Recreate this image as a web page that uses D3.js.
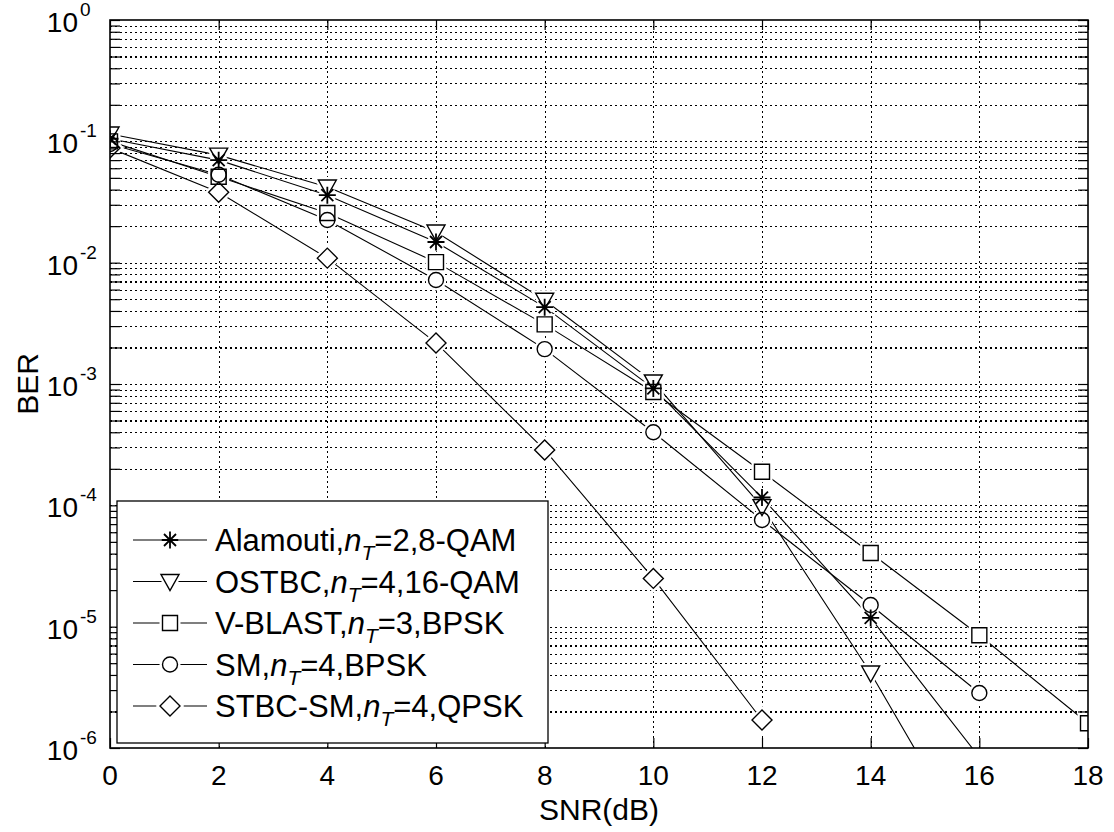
<!DOCTYPE html>
<html>
<head>
<meta charset="utf-8">
<script src="https://cdn.jsdelivr.net/npm/d3@7"></script>
<style>
  html, body { margin: 0; padding: 0; background: #fff; }
  text { font-family: "Liberation Sans", Arial, sans-serif; fill: #000; }
</style>
</head>
<body>
<svg id="chart" width="1114" height="832"></svg>
<script>
// ---- data ----
const snr = [0, 2, 4, 6, 8, 10, 12, 14, 16, 18];
const alamouti = [0.105, 0.070, 0.036, 0.0148, 0.0043, 0.00092, 1.16e-4, 1.18e-5, 8.4e-7];
const ostbc    = [0.115, 0.077, 0.042, 0.0179, 0.0049, 0.00104, 9.75e-5, 4.15e-6, 1.2e-7];
const vblast   = [0.100, 0.051, 0.0257, 0.0101, 0.0031, 0.00086, 1.89e-4, 4.05e-5, 8.5e-6, 1.6e-6];
const sm       = [0.095, 0.053, 0.0225, 0.0072, 0.00194, 0.00040, 7.57e-5, 1.51e-5, 2.84e-6];
const stbcsm   = [0.088, 0.038, 0.0109, 0.00218, 0.000286, 2.5e-5, 1.7e-6];

const seriesNames = ["Alamouti", "OSTBC", "V-BLAST", "SM", "STBC-SM"];
const seriesNT = ["2", "4", "3", "4", "4"];
const seriesMod = ["8-QAM", "16-QAM", "BPSK", "BPSK", "QPSK"];
const seriesMarkers = ["asterisk", "triangle", "square", "circle", "diamond"];
const seriesValues = [alamouti, ostbc, vblast, sm, stbcsm];

const xTicks = [0, 2, 4, 6, 8, 10, 12, 14, 16, 18];
const yTickExps = [0, -1, -2, -3, -4, -5, -6];
const xLabel = "SNR(dB)";
const yLabel = "BER";

// ---- layout ----
const L = 110, R = 1088, T = 20, B = 748;
const svg = d3.select("#chart");
const x = d3.scaleLinear().domain([0, 18]).range([L, R]);
const y = d3.scaleLog().domain([1e-6, 1]).range([B, T]);

// all log ticks (major + minor)
const yAll = [];
for (let e = -6; e < 0; e++) for (let m = 1; m < 10; m++) yAll.push(m * Math.pow(10, e));
yAll.push(1);

svg.append("defs").append("clipPath").attr("id", "plotclip")
  .append("rect").attr("x", L).attr("y", T).attr("width", R - L).attr("height", B - T);

// ---- grid ----
const grid = svg.append("g");
grid.append("g").attr("transform", `translate(0,${B})`)
  .call(d3.axisBottom(x).tickValues(xTicks.slice(1, -1)).tickSize(-(B - T)).tickFormat(""))
  .call(g => g.select(".domain").remove());
grid.append("g").attr("transform", `translate(${L},0)`)
  .call(d3.axisLeft(y).tickValues(yAll.filter(v => v > 1e-6 && v < 1)).tickSize(-(R - L)).tickFormat(""))
  .call(g => g.select(".domain").remove());
grid.selectAll("line").attr("stroke", "#000").attr("stroke-width", 1.1)
  .attr("stroke-dasharray", "2,3").attr("shape-rendering", "crispEdges");

// ---- marker shapes ----
function markerPath(type) {
  switch (type) {
    case "asterisk": {
      const a = 8.5, d = 6;
      return `M${-a},0L${a},0M0,${-a}L0,${a}M${-d},${-d}L${d},${d}M${-d},${d}L${d},${-d}`;
    }
    case "triangle": return "M-9,-7L9,-7L0,9Z";
    case "square": return "M-7.5,-7.5L7.5,-7.5L7.5,7.5L-7.5,7.5Z";
    case "circle": return "M7.5,0A7.5,7.5 0 1,1 -7.5,0A7.5,7.5 0 1,1 7.5,0Z";
    case "diamond": return "M0,-10L10,0L0,10L-10,0Z";
  }
}
const markerStroke = t => t === "asterisk" ? 1.8 : 1.4;

const plot = svg.append("g").attr("clip-path", "url(#plotclip)");
const line = d3.line().x(d => x(d[0])).y(d => y(d[1]));

// lines
seriesValues.forEach(vals => {
  const pts = vals.map((v, i) => [snr[i], v]);
  plot.append("path").datum(pts).attr("d", line)
    .attr("fill", "none").attr("stroke", "#000").attr("stroke-width", 1.1);
});
// halos (gaps of the lines around the markers)
seriesValues.forEach((vals, s) => {
  vals.forEach((v, i) => {
    plot.append("path").attr("d", markerPath(seriesMarkers[s]))
      .attr("transform", `translate(${x(snr[i])},${y(v)})`)
      .attr("fill", seriesMarkers[s] === "asterisk" ? "none" : "#fff")
      .attr("stroke", "#fff").attr("stroke-width", 6);
  });
});
// markers
seriesValues.forEach((vals, s) => {
  vals.forEach((v, i) => {
    plot.append("path").attr("d", markerPath(seriesMarkers[s]))
      .attr("transform", `translate(${x(snr[i])},${y(v)})`)
      .attr("fill", "none").attr("stroke", "#000").attr("stroke-width", markerStroke(seriesMarkers[s]));
  });
});

// ---- axes box & ticks ----
const tk = 10;
const axes = svg.append("g");
axes.append("g").attr("transform", `translate(0,${B})`)
  .call(d3.axisBottom(x).tickValues(xTicks).tickSize(-tk).tickFormat(""));
axes.append("g").attr("transform", `translate(0,${T})`)
  .call(d3.axisTop(x).tickValues(xTicks).tickSize(-tk).tickFormat(""));
axes.append("g").attr("transform", `translate(${L},0)`)
  .call(d3.axisLeft(y).tickValues(yAll).tickSize(-tk).tickFormat(""));
axes.append("g").attr("transform", `translate(${R},0)`)
  .call(d3.axisRight(y).tickValues(yAll).tickSize(-tk).tickFormat(""));
axes.selectAll(".domain").remove();
axes.selectAll("line").attr("stroke", "#000").attr("stroke-width", 1.2);
axes.append("rect").attr("x", L).attr("y", T).attr("width", R - L).attr("height", B - T)
  .attr("fill", "none").attr("stroke", "#000").attr("stroke-width", 1.6);

// tick labels
svg.append("g").selectAll("text").data(xTicks).join("text")
  .attr("x", d => x(d)).attr("y", B + 37).attr("text-anchor", "middle")
  .attr("font-size", 28).text(d => d);

svg.append("g").selectAll("text").data(yTickExps).join("text")
  .attr("x", 78).attr("y", d => y(Math.pow(10, d)) + 12).attr("text-anchor", "end")
  .attr("font-size", 28).text("10");
svg.append("g").selectAll("text").data(yTickExps).join("text")
  .attr("x", 80).attr("y", d => y(Math.pow(10, d)) - 4).attr("text-anchor", "start")
  .attr("font-size", 19).text(d => d === 0 ? "0" : ("-" + Math.abs(d)));

// axis titles
svg.append("text").attr("x", (L + R) / 2).attr("y", 820).attr("text-anchor", "middle")
  .attr("font-size", 30).text(xLabel);
svg.append("text").attr("transform", `translate(38,${(T + B) / 2}) rotate(-90)`)
  .attr("text-anchor", "middle").attr("font-size", 30).text(yLabel);

// ---- legend ----
const lg = svg.append("g");
lg.append("rect").attr("x", 117).attr("y", 501).attr("width", 431).attr("height", 242)
  .attr("fill", "#fff").attr("stroke", "#000").attr("stroke-width", 1.3);
const legY = d3.scalePoint().domain(seriesNames).range([540, 706]);
seriesNames.forEach((name, s) => {
  const cy = legY(name);
  lg.append("line").attr("x1", 133).attr("x2", 207).attr("y1", cy).attr("y2", cy)
    .attr("stroke", "#000").attr("stroke-width", 1.1);
  lg.append("path").attr("d", markerPath(seriesMarkers[s]))
    .attr("transform", `translate(170,${cy})`)
    .attr("fill", seriesMarkers[s] === "asterisk" ? "none" : "#fff")
    .attr("stroke", "#fff").attr("stroke-width", 6);
  lg.append("path").attr("d", markerPath(seriesMarkers[s]))
    .attr("transform", `translate(170,${cy})`)
    .attr("fill", "none").attr("stroke", "#000").attr("stroke-width", markerStroke(seriesMarkers[s]));
  const t = lg.append("text").attr("x", 215).attr("y", cy + 11).attr("font-size", 31);
  t.append("tspan").text(name + ",");
  t.append("tspan").attr("font-style", "italic").text("n");
  t.append("tspan").attr("font-style", "italic").attr("font-size", 21).attr("dy", 9).text("T");
  t.append("tspan").attr("dy", -9).text("=" + seriesNT[s] + "," + seriesMod[s]);
});
</script>
</body>
</html>
